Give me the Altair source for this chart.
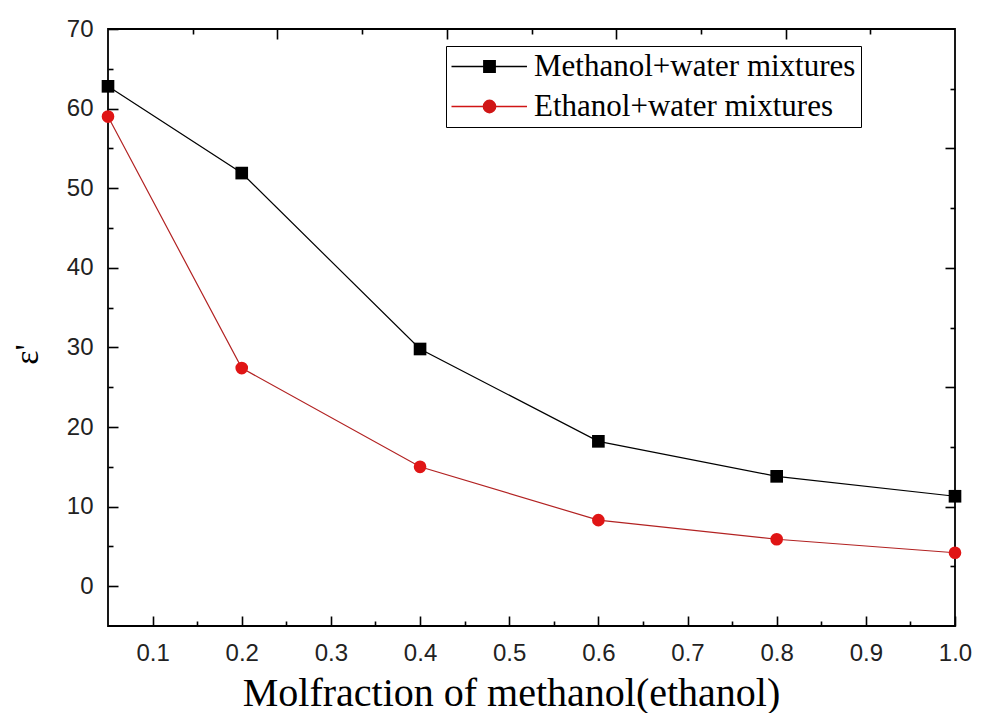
import altair as alt
import pandas as pd

# ---- data ----
x_vals = [0.05, 0.2, 0.4, 0.6, 0.8, 1.0]
methanol = [62.8, 51.9, 29.8, 18.2, 13.8, 11.3]
ethanol = [59.0, 27.4, 15.0, 8.3, 5.9, 4.2]
series_names = ["Methanol+water mixtures", "Ethanol+water mixtures"]

x_major = [0.1, 0.2, 0.3, 0.4, 0.5, 0.6, 0.7, 0.8, 0.9, 1.0]
x_minor = [0.15, 0.25, 0.35, 0.45, 0.55, 0.65, 0.75, 0.85, 0.95]
y_major = [0, 10, 20, 30, 40, 50, 60, 70]
y_minor = [5, 15, 25, 35, 45, 55, 65]
# mirrored (top / right) axes use their own 0..1 scale in the original
top_major = [0.24, 0.43, 0.62, 0.81]
top_minor = [0.145, 0.335, 0.525, 0.715, 0.905]
right_major = [10.0, 25.0, 40.0, 55.0]
right_minor = [2.5, 17.5, 32.5, 47.5, 62.5]

W, H = 847, 597

rows = []
for name, vals in zip(series_names, [methanol, ethanol]):
    for xv, yv in zip(x_vals, vals):
        rows.append({"x": xv, "y": yv, "series": name})
df = pd.DataFrame(rows)

xs = alt.Scale(domain=[0.05, 1.0], nice=False, zero=False)
ys = alt.Scale(domain=[-5, 70], nice=False, zero=False)

marker_colors = ["black", "#e01515"]
line_colors = ["black", "#b22222"]

bottom_axis = alt.Axis(orient="bottom", values=x_major, format=".1f", ticks=False,
                       domain=False, grid=False, labelFont="Liberation Sans",
                       labelFontSize=24, labelColor="#222222", labelPadding=15,
                       labelFlush=False, labelOverlap=False,
                       title="Molfraction of methanol(ethanol)",
                       titleFont="Liberation Serif", titleFontSize=40,
                       titleFontWeight="normal", titleColor="black",
                       titleX=403, titleY=79, titleBaseline="alphabetic")
left_axis = alt.Axis(orient="left", values=y_major, format="d", ticks=False,
                     domain=False, grid=False, labelFont="Liberation Sans",
                     labelFontSize=24, labelColor="#222222", labelPadding=15,
                     labelFlush=False, labelOverlap=False,
                     title="ε'", titleFont="Liberation Serif", titleFontSize=34,
                     titleFontWeight="normal", titleColor="black",
                     titleAngle=270, titleX=-81, titleY=325,
                     titleBaseline="middle", titleAlign="center")

lines = alt.Chart(df).mark_line(strokeWidth=1.2).encode(
    x=alt.X("x:Q", scale=xs, axis=bottom_axis),
    y=alt.Y("y:Q", scale=ys, axis=left_axis),
    stroke=alt.Stroke("series:N", scale=alt.Scale(domain=series_names, range=line_colors), legend=None),
)

points = alt.Chart(df).mark_point(filled=True, size=160, opacity=1).encode(
    x=alt.X("x:Q", scale=xs, axis=None),
    y=alt.Y("y:Q", scale=ys, axis=None),
    color=alt.Color("series:N", scale=alt.Scale(domain=series_names, range=marker_colors), legend=None),
    shape=alt.Shape("series:N", scale=alt.Scale(domain=series_names, range=["square", "circle"]), legend=None),
)

# legend symbols: a line with a (stroke-filled) marker in its middle
cx = 2.875
line_part = "M-1.875,0H7.56"
sq_path = line_part + "".join(
    f"M{cx - h:.3f},{-h:.3f}H{cx + h:.3f}V{h:.3f}H{cx - h:.3f}Z"
    for h in [0.72, 0.6, 0.48, 0.36, 0.24, 0.12, 0.03])
ci_path = line_part + "".join(
    f"M{cx + r:.3f},0A{r:.3f},{r:.3f},0,1,1,{cx - r:.3f},0A{r:.3f},{r:.3f},0,1,1,{cx + r:.3f},0Z"
    for r in [0.78, 0.66, 0.54, 0.42, 0.30, 0.18, 0.06])

leg = alt.Legend(orient="none", legendX=338, legendY=17, title=None, padding=5,
                 strokeColor="black", fillColor="white", symbolSize=256,
                 symbolStrokeWidth=1.3, symbolOpacity=1, labelFont="Liberation Serif",
                 labelFontSize=31, labelColor="black", labelOffset=52, rowPadding=8,
                 labelLimit=1000)

legend_layer = alt.Chart(df).mark_point(filled=False, opacity=0).encode(
    x=alt.X("x:Q", scale=xs, axis=None),
    y=alt.Y("y:Q", scale=ys, axis=None),
    color=alt.Color("series:N", scale=alt.Scale(domain=series_names, range=["black", "#d01515"]), legend=leg),
    shape=alt.Shape("series:N", scale=alt.Scale(domain=series_names, range=[sq_path, ci_path]), legend=leg),
)


def tick_axis(orient, vals, size):
    off = -H if orient in ("top", "bottom") else -W
    return alt.Axis(orient=orient, offset=off, values=vals, tickSize=size, tickWidth=1.6,
                    tickColor="black", labels=False, domain=False, grid=False, title=None)


def helper(xaxis, yaxis):
    return alt.Chart(df).mark_point(opacity=0).encode(
        x=alt.X("x:Q", scale=xs, axis=xaxis),
        y=alt.Y("y:Q", scale=ys, axis=yaxis),
    )


h1 = helper(tick_axis("top", x_major, 10), tick_axis("right", y_major, 10))
h2 = helper(tick_axis("top", x_minor, 5), tick_axis("right", y_minor, 5))
h3 = helper(tick_axis("bottom", top_major, 10), tick_axis("left", right_major, 10))
h4 = helper(tick_axis("bottom", top_minor, 5), tick_axis("left", right_minor, 5))

chart = alt.layer(lines, points, legend_layer, h1, h2, h3, h4).resolve_scale(
    shape="independent", color="independent"
).resolve_legend(
    shape="independent", color="independent"
).resolve_axis(
    x="independent", y="independent"
).properties(
    width=W, height=H,
    padding={"left": 100, "top": 21, "right": 18, "bottom": 87},
    autosize=alt.AutoSizeParams(type="none"),
    background="white",
).configure_view(stroke="black", strokeWidth=1.8)

chart.save("out.html", embed_options={"renderer": "svg", "actions": False})
